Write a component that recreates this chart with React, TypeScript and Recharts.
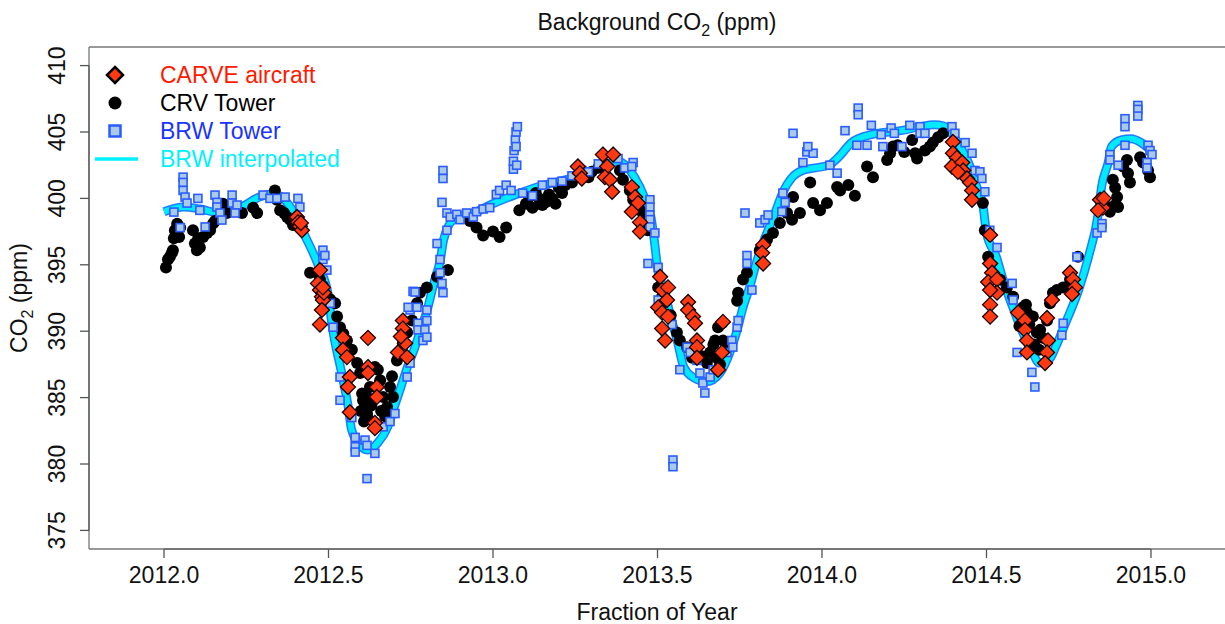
import {
  ComposedChart,
  Line,
  Scatter,
  XAxis,
  YAxis,
  Legend,
  ReferenceLine,
} from "recharts";

// [fraction of year, CO2 ppm]
const carveAircraft: [number, number][] = [
  [2012.401, 398.5], [2012.404, 398.6], [2012.407, 398.2], [2012.413, 397.9], [2012.419, 397.6], [2012.416, 398.15],
  [2012.468, 393.6], [2012.474, 394.6], [2012.474, 393.1], [2012.48, 392.6], [2012.483, 392.35], [2012.48, 391.6],
  [2012.474, 390.5], [2012.486, 392.9], [2012.483, 393.3],
  [2012.544, 389.5], [2012.544, 388.6], [2012.556, 388.05], [2012.565, 386.55], [2012.559, 385.8], [2012.565, 383.9],
  [2012.62, 389.5], [2012.62, 387.3], [2012.62, 386.85], [2012.647, 385.8], [2012.647, 385.05], [2012.641, 383.1],
  [2012.641, 382.7], [2012.726, 390.8], [2012.726, 390.2], [2012.733, 389.1], [2012.711, 388.4], [2012.739, 388.05],
  [2012.72, 389.6],
  [2013.258, 402.4], [2013.264, 401.9], [2013.27, 401.5], [2013.334, 403.3], [2013.365, 403.3], [2013.347, 402.4],
  [2013.34, 401.6], [2013.356, 401.4], [2013.362, 400.5], [2013.422, 400.85], [2013.432, 400.1], [2013.441, 399.65],
  [2013.422, 399.0], [2013.447, 398.2], [2013.447, 397.5],
  [2013.508, 394.1], [2013.514, 393.1], [2013.532, 393.3], [2013.529, 392.35], [2013.502, 391.8], [2013.514, 391.4],
  [2013.532, 391.1], [2013.514, 390.2], [2013.523, 389.3], [2013.593, 392.2], [2013.593, 391.6], [2013.608, 391.1],
  [2013.614, 390.6], [2013.62, 389.3], [2013.62, 388.8], [2013.62, 388.0], [2013.699, 390.7], [2013.696, 388.4],
  [2013.684, 387.1], [2013.821, 396.5], [2013.818, 395.9], [2013.821, 395.1],
  [2014.398, 404.25], [2014.398, 403.4], [2014.41, 403.05], [2014.395, 402.4], [2014.426, 402.7], [2014.429, 402.1],
  [2014.413, 402.0], [2014.441, 401.5], [2014.45, 401.2], [2014.456, 400.6], [2014.456, 399.9], [2014.511, 397.25],
  [2014.511, 395.1], [2014.517, 394.4], [2014.505, 393.7], [2014.532, 393.9], [2014.532, 392.9], [2014.511, 393.1],
  [2014.511, 392.0], [2014.511, 391.1], [2014.596, 391.4], [2014.617, 390.8], [2014.617, 390.1], [2014.623, 389.3],
  [2014.623, 388.4], [2014.684, 391.0], [2014.699, 392.35], [2014.687, 389.3], [2014.684, 388.4], [2014.678, 387.6],
  [2014.754, 394.4], [2014.763, 393.9], [2014.769, 393.3], [2014.76, 392.8],
  [2014.845, 399.9], [2014.854, 399.3], [2014.839, 399.1], [2014.857, 400.0],
];

const crvTower: [number, number][] = [
  [2012.006, 394.8], [2012.012, 395.4], [2012.018, 395.6], [2012.024, 395.9], [2012.027, 396.1], [2012.03, 397.0],
  [2012.033, 397.6], [2012.04, 398.1], [2012.036, 397.3], [2012.049, 397.8], [2012.046, 397.1], [2012.088, 397.6],
  [2012.094, 396.6], [2012.1, 396.1], [2012.109, 396.3], [2012.104, 397.0], [2012.119, 397.1], [2012.131, 397.4],
  [2012.14, 397.6], [2012.149, 398.1], [2012.155, 398.3], [2012.179, 399.6], [2012.191, 398.9], [2012.237, 398.9],
  [2012.271, 399.3], [2012.283, 398.9], [2012.337, 400.6], [2012.343, 399.9], [2012.353, 399.1], [2012.365, 398.9],
  [2012.374, 398.6], [2012.383, 398.4], [2012.392, 398.0],
  [2012.444, 394.4], [2012.465, 394.4], [2012.474, 393.9], [2012.483, 393.4], [2012.505, 392.4], [2012.52, 392.1],
  [2012.526, 391.1], [2012.535, 390.3], [2012.545, 389.8], [2012.556, 389.3], [2012.571, 388.6], [2012.587, 387.6],
  [2012.596, 386.85], [2012.602, 385.3], [2012.605, 384.8], [2012.611, 384.3], [2012.617, 383.8], [2012.617, 385.05],
  [2012.626, 385.8], [2012.641, 387.3], [2012.65, 387.1], [2012.657, 386.3], [2012.666, 385.05], [2012.678, 384.3],
  [2012.681, 383.8], [2012.687, 385.8], [2012.693, 386.6], [2012.696, 385.05], [2012.708, 387.8], [2012.726, 389.1],
  [2012.739, 389.9], [2012.754, 390.8], [2012.769, 392.1], [2012.778, 392.9], [2012.799, 393.3], [2012.83, 394.1],
  [2012.863, 394.6], [2012.598, 384.0], [2012.608, 383.2], [2012.62, 383.4], [2012.63, 384.4], [2012.66, 384.0],
  [2012.672, 383.6],
  [2012.93, 398.3], [2012.95, 397.8], [2012.97, 397.2], [2013.0, 397.5], [2013.02, 397.1], [2013.04, 397.8],
  [2013.08, 399.1], [2013.1, 399.6], [2013.11, 400.1], [2013.12, 399.3], [2013.13, 400.4], [2013.14, 400.0],
  [2013.15, 399.5], [2013.16, 399.7], [2013.17, 400.3], [2013.18, 400.0], [2013.19, 399.6], [2013.2, 400.8],
  [2013.21, 400.4], [2013.22, 401.0], [2013.24, 401.2], [2013.27, 401.8], [2013.29, 401.6], [2013.3, 402.0],
  [2013.32, 402.3], [2013.34, 402.5],
  [2013.386, 402.1], [2013.395, 401.4], [2013.416, 400.6], [2013.426, 399.9], [2013.447, 399.1], [2013.46, 398.4],
  [2013.47, 397.6], [2013.502, 393.3], [2013.514, 392.6],
  [2013.54, 391.2], [2013.559, 389.9], [2013.568, 389.3], [2013.59, 388.8], [2013.605, 388.0], [2013.62, 388.4],
  [2013.638, 388.1], [2013.65, 387.6], [2013.66, 388.4], [2013.67, 389.0], [2013.675, 389.3], [2013.684, 390.3],
  [2013.696, 390.6], [2013.699, 389.3], [2013.705, 388.5], [2013.711, 388.8], [2013.68, 388.0], [2013.69, 387.5],
  [2013.742, 392.3], [2013.745, 392.9], [2013.76, 393.9], [2013.772, 394.4], [2013.811, 396.1], [2013.833, 396.9],
  [2013.851, 397.4], [2013.872, 398.15], [2013.894, 398.9], [2013.909, 398.4], [2013.912, 400.1], [2013.933, 398.9],
  [2013.964, 401.2], [2013.973, 399.65], [2013.994, 399.1], [2014.015, 399.65], [2014.046, 400.85], [2014.055, 400.6],
  [2014.08, 401.0], [2014.1, 400.2], [2014.137, 402.4], [2014.155, 401.6], [2014.198, 402.9], [2014.207, 403.4],
  [2014.216, 403.9],
  [2014.274, 404.4], [2014.283, 403.4], [2014.289, 403.0], [2014.313, 403.6], [2014.328, 403.9], [2014.337, 404.2],
  [2014.353, 404.6], [2014.368, 404.9], [2014.25, 403.5], [2014.23, 404.0],
  [2014.489, 399.65], [2014.495, 397.6], [2014.505, 395.6], [2014.541, 393.9], [2014.562, 393.3], [2014.581, 392.6],
  [2014.611, 391.8], [2014.623, 391.4], [2014.641, 391.1], [2014.653, 389.9], [2014.663, 390.1], [2014.684, 390.8],
  [2014.693, 392.1], [2014.702, 392.9], [2014.714, 393.1], [2014.733, 393.3], [2014.754, 393.9], [2014.778, 395.6],
  [2014.63, 390.5], [2014.645, 389.0], [2014.66, 388.6], [2014.67, 389.5], [2014.6, 390.4], [2014.62, 392.0],
  [2014.869, 399.35], [2014.875, 399.0], [2014.884, 401.4], [2014.891, 400.8], [2014.891, 399.5], [2014.897, 400.1],
  [2014.9, 399.35], [2014.915, 402.4], [2014.927, 402.9], [2014.93, 401.9], [2014.936, 401.2], [2014.967, 403.1],
  [2014.976, 402.7], [2014.991, 402.1], [2014.997, 401.6],
];

const brwTower: [number, number][] = [
  [2012.03, 398.97], [2012.049, 397.8], [2012.058, 401.6], [2012.058, 401.2], [2012.058, 400.6], [2012.064, 400.1],
  [2012.07, 399.65], [2012.103, 400.0], [2012.109, 399.1], [2012.125, 397.85], [2012.155, 400.25], [2012.161, 399.7],
  [2012.161, 399.35], [2012.17, 398.9], [2012.176, 398.37], [2012.207, 400.25], [2012.207, 399.65], [2012.222, 399.5],
  [2012.216, 398.9], [2012.301, 400.25], [2012.322, 400.0], [2012.343, 400.0], [2012.368, 400.1], [2012.407, 400.0],
  [2012.413, 399.35], [2012.483, 396.1], [2012.483, 395.4], [2012.495, 394.6], [2012.505, 392.1], [2012.489, 395.7],
  [2012.514, 390.3], [2012.535, 386.55], [2012.535, 384.8], [2012.571, 383.5], [2012.581, 382.0], [2012.581, 381.3],
  [2012.581, 380.9], [2012.611, 381.8], [2012.617, 381.4], [2012.641, 380.8], [2012.617, 378.9], [2012.666, 382.8],
  [2012.687, 383.2], [2012.702, 383.8], [2012.739, 386.55], [2012.748, 387.6], [2012.757, 393.0], [2012.748, 391.6],
  [2012.772, 390.6], [2012.772, 390.1], [2012.787, 389.3], [2012.799, 391.6], [2012.799, 390.8], [2012.793, 390.1],
  [2012.799, 389.55], [2012.83, 396.6], [2012.839, 395.4], [2012.839, 394.4], [2012.845, 393.6], [2012.848, 392.9],
  [2012.763, 392.95], [2012.742, 391.8], [2012.769, 391.8], [2012.848, 402.1], [2012.848, 401.5], [2012.845, 399.7],
  [2012.86, 398.9], [2012.86, 397.6],
  [2012.87, 398.6], [2012.89, 398.8], [2012.9, 398.4], [2012.92, 398.9], [2012.94, 398.6], [2012.95, 399.0],
  [2012.97, 399.2], [2012.99, 399.3], [2013.01, 400.3], [2013.02, 400.6], [2013.04, 401.0], [2013.055, 400.6],
  [2013.062, 402.2], [2013.062, 402.8], [2013.064, 403.6], [2013.068, 404.4], [2013.07, 405.0], [2013.074, 405.4],
  [2013.07, 403.9], [2013.072, 402.5], [2013.09, 400.4], [2013.12, 400.2], [2013.15, 401.0], [2013.18, 401.2],
  [2013.21, 401.3], [2013.24, 401.7], [2013.27, 402.1], [2013.29, 402.0], [2013.32, 402.6], [2013.38, 403.0],
  [2013.4, 402.3],
  [2013.426, 402.7], [2013.422, 402.4], [2013.477, 399.9], [2013.477, 399.35], [2013.477, 398.75], [2013.477, 398.4],
  [2013.477, 397.85], [2013.492, 397.4], [2013.471, 395.1], [2013.502, 394.8], [2013.502, 392.35], [2013.544, 390.5],
  [2013.547, 380.3], [2013.547, 379.8], [2013.568, 387.1], [2013.59, 388.8], [2013.599, 388.4], [2013.62, 387.8],
  [2013.629, 386.85], [2013.638, 386.1], [2013.644, 385.35], [2013.66, 386.55], [2013.669, 387.1], [2013.711, 388.4],
  [2013.726, 389.3], [2013.729, 388.8], [2013.742, 390.3], [2013.745, 390.8], [2013.766, 398.9], [2013.772, 395.7],
  [2013.772, 395.1], [2013.787, 393.1], [2013.811, 398.15], [2013.827, 398.4], [2013.836, 398.75], [2013.881, 400.4],
  [2013.888, 399.7], [2013.878, 399.0], [2013.912, 404.9], [2013.942, 402.7], [2013.954, 403.5], [2013.973, 403.4],
  [2013.957, 403.9], [2014.024, 402.5], [2014.046, 401.9], [2014.07, 405.1], [2014.106, 404.0], [2014.11, 406.8],
  [2014.11, 406.3], [2014.137, 404.0], [2014.15, 405.5], [2014.18, 404.8], [2014.185, 403.9], [2014.21, 405.3],
  [2014.22, 404.9], [2014.243, 403.9], [2014.267, 405.5], [2014.298, 405.4], [2014.298, 404.9], [2014.313, 404.9],
  [2014.395, 405.4], [2014.404, 404.9], [2014.435, 404.2], [2014.456, 403.4], [2014.465, 402.1], [2014.48, 402.0],
  [2014.486, 401.5], [2014.495, 400.5], [2014.51, 397.6], [2014.532, 396.3], [2014.578, 393.6], [2014.581, 392.35],
  [2014.593, 388.4], [2014.638, 386.9], [2014.647, 385.8], [2014.733, 390.6], [2014.729, 389.7], [2014.775, 395.6],
  [2014.836, 397.4], [2014.851, 398.1], [2014.851, 397.8], [2014.875, 403.3], [2014.875, 402.9], [2014.9, 402.5],
  [2014.921, 406.0], [2014.921, 405.4], [2014.921, 404.0], [2014.96, 407.0], [2014.96, 406.7], [2014.96, 406.2],
  [2014.991, 404.0], [2014.997, 403.6], [2015.003, 403.3], [2014.988, 402.7], [2014.988, 402.3],
];

const brwInterpolated: [number, number][] = [
  [2012.0, 399.0], [2012.06, 399.35], [2012.11, 399.2], [2012.16, 398.95], [2012.23, 399.3], [2012.29, 400.1],
  [2012.33, 400.33], [2012.36, 400.05], [2012.39, 399.13], [2012.43, 397.1], [2012.47, 394.9], [2012.5, 392.6],
  [2012.51, 390.6], [2012.54, 386.85], [2012.56, 384.3], [2012.57, 382.6], [2012.6, 381.3], [2012.62, 381.05],
  [2012.65, 381.6], [2012.68, 382.8], [2012.7, 384.3], [2012.72, 385.8], [2012.74, 387.3], [2012.76, 388.6],
  [2012.78, 390.1], [2012.8, 391.6], [2012.82, 393.6], [2012.84, 395.4], [2012.85, 396.9], [2012.88, 398.4],
  [2012.95, 399.0], [2013.0, 399.6], [2013.07, 400.3], [2013.14, 400.9], [2013.22, 401.4], [2013.29, 401.9],
  [2013.34, 402.5], [2013.38, 402.8], [2013.41, 402.3], [2013.43, 401.6], [2013.46, 400.1], [2013.48, 398.6],
  [2013.49, 396.9], [2013.5, 394.8], [2013.52, 393.1], [2013.54, 391.1], [2013.56, 389.3], [2013.58, 387.3],
  [2013.61, 386.5], [2013.65, 386.2], [2013.69, 386.85], [2013.72, 388.4], [2013.74, 389.9], [2013.76, 391.8],
  [2013.78, 393.3], [2013.8, 395.1], [2013.82, 396.6], [2013.84, 397.85], [2013.86, 399.1], [2013.88, 400.4],
  [2013.91, 401.6], [2013.94, 402.1], [2013.98, 402.3], [2014.02, 402.5], [2014.05, 403.1], [2014.09, 404.2],
  [2014.15, 404.8], [2014.24, 405.1], [2014.3, 405.4], [2014.34, 405.55], [2014.37, 405.45], [2014.39, 405.0],
  [2014.42, 403.9], [2014.45, 402.4], [2014.47, 400.9], [2014.49, 399.35], [2014.5, 397.4], [2014.53, 395.6],
  [2014.55, 393.9], [2014.58, 391.8], [2014.61, 389.9], [2014.64, 388.4], [2014.66, 387.6], [2014.69, 387.85],
  [2014.71, 388.8], [2014.74, 390.6], [2014.78, 393.1], [2014.81, 395.6], [2014.84, 398.9], [2014.85, 400.9],
  [2014.87, 402.7], [2014.88, 403.9], [2014.91, 404.4], [2014.94, 404.5], [2014.97, 404.2], [2015.0, 403.6],
];

const xTicks = [2012.0, 2012.5, 2013.0, 2013.5, 2014.0, 2014.5, 2015.0];
const yTicks = [375, 380, 385, 390, 395, 400, 405, 410];

const toPoints = (rows: [number, number][]) => rows.map(([x, y]) => ({ x, y }));

const FONT = "'Liberation Sans', Arial, Helvetica, sans-serif";
const X_DOMAIN: [number, number] = [2011.772, 2015.228];
const Y_DOMAIN: [number, number] = [373.6, 411.4];

const Diamond = (props: any) => (
  <polygon
    points={`${props.cx},${props.cy - 7.5} ${props.cx + 7.5},${props.cy} ${props.cx},${props.cy + 7.5} ${props.cx - 7.5},${props.cy}`}
    fill="#ff3a12"
    stroke="#1a0000"
    strokeWidth={1.3}
  />
);

const Dot = (props: any) => <circle cx={props.cx} cy={props.cy} r={6} fill="#000" />;

const Square = (props: any) => (
  <rect
    x={props.cx - 4}
    y={props.cy - 4}
    width={8}
    height={8}
    fill="#a9cbe9"
    stroke="#2b5cff"
    strokeWidth={1.6}
  />
);

const XTick = ({ x, y, payload }: any) => (
  <text x={x} y={y + 23} textAnchor="middle" fontSize={23} fontFamily={FONT} fill="#111">
    {Number(payload.value).toFixed(1)}
  </text>
);

const YTick = ({ x, y, payload }: any) => (
  <text
    transform={`translate(${x - 13}, ${y}) rotate(-90)`}
    textAnchor="middle"
    fontSize={23}
    fontFamily={FONT}
    fill="#111"
  >
    {payload.value}
  </text>
);

function LegendBox() {
  const text = { fontSize: 23, fontFamily: FONT };
  return (
    <svg width={330} height={130}>
      <polygon points="26,20 34,28 26,36 18,28" fill="#ff3a12" stroke="#000" strokeWidth={2.5} />
      <circle cx={26} cy={56} r={6.5} fill="#000" />
      <rect x={20.5} y={78.5} width={11} height={11} fill="#a9cbe9" stroke="#2b5cff" strokeWidth={2.5} />
      <line x1={6} y1={112} x2={49} y2={112} stroke="#00f0ff" strokeWidth={3.5} />
      <text x={71} y={36} fill="#ff1a00" {...text}>CARVE aircraft</text>
      <text x={71} y={64} fill="#000" {...text}>CRV Tower</text>
      <text x={71} y={92} fill="#1a33ff" {...text}>BRW Tower</text>
      <text x={71} y={120} fill="#00f0ff" {...text}>BRW interpolated</text>
    </svg>
  );
}

// title and x-axis title share the x-axis label slot
const AxisTitles = () => (
  <g fontFamily={FONT} fontSize={23} fill="#111">
    <text x={657} y={30} textAnchor="middle">
      <tspan>Background CO</tspan>
      <tspan dy={6} fontSize={16}>2</tspan>
      <tspan dy={-6}> (ppm)</tspan>
    </text>
    <text x={657} y={620} textAnchor="middle">
      Fraction of Year
    </text>
  </g>
);

export default function App() {
  return (
    <div style={{ position: "absolute", left: 0, top: 0, width: 1225, height: 624, overflow: "hidden", background: "#fff" }}>
      <ComposedChart width={1230} height={624} margin={{ top: 47, right: 4, bottom: 0, left: 0 }}>
        <XAxis
          dataKey="x"
          type="number"
          domain={X_DOMAIN}
          allowDataOverflow
          ticks={xTicks}
          interval={0}
          tick={<XTick />}
          tickSize={9}
          tickMargin={2}
          height={75}
          axisLine={{ stroke: "#777", strokeWidth: 1.3 }}
          tickLine={{ stroke: "#555", strokeWidth: 1.3 }}
          label={{ content: () => <AxisTitles /> }}
        />
        <YAxis
          dataKey="y"
          type="number"
          domain={Y_DOMAIN}
          allowDataOverflow
          ticks={yTicks}
          interval={0}
          tick={<YTick />}
          tickSize={9}
          tickMargin={2}
          width={89}
          axisLine={{ stroke: "#777", strokeWidth: 1.3 }}
          tickLine={{ stroke: "#555", strokeWidth: 1.3 }}
          label={{
            content: () => (
              <text transform="translate(27, 298) rotate(-90)" textAnchor="middle" fontSize={23} fontFamily={FONT} fill="#111">
                <tspan>CO</tspan>
                <tspan dy={6} fontSize={16}>2</tspan>
                <tspan dy={-6}> (ppm)</tspan>
              </text>
            ),
          }}
        />
        <ReferenceLine y={Y_DOMAIN[1]} stroke="#777" strokeWidth={1.3} ifOverflow="visible" />
        <ReferenceLine
          segment={[{ x: 2012, y: Y_DOMAIN[0] }, { x: 2015, y: Y_DOMAIN[0] }]}
          stroke="#444"
          strokeWidth={1.5}
          ifOverflow="visible"
        />
        <ReferenceLine
          segment={[{ x: X_DOMAIN[0], y: 375 }, { x: X_DOMAIN[0], y: 410 }]}
          stroke="#444"
          strokeWidth={1.5}
          ifOverflow="visible"
        />
        <Scatter name="CRV Tower" data={toPoints(crvTower)} shape={Dot} isAnimationActive={false} />
        <Line
          name="BRW outline"
          data={toPoints(brwInterpolated)}
          dataKey="y"
          type="monotone"
          stroke="#1e7cff"
          strokeWidth={9}
          dot={false}
          activeDot={false}
          isAnimationActive={false}
          legendType="none"
        />
        <Line
          name="BRW interpolated"
          data={toPoints(brwInterpolated)}
          dataKey="y"
          type="monotone"
          stroke="#00eaff"
          strokeWidth={6}
          dot={false}
          activeDot={false}
          isAnimationActive={false}
        />
        <Scatter name="BRW Tower" data={toPoints(brwTower)} shape={Square} isAnimationActive={false} />
        <Scatter name="CARVE aircraft" data={toPoints(carveAircraft)} shape={Diamond} isAnimationActive={false} />
        <Legend
          layout="horizontal"
          verticalAlign="middle"
          align="center"
          wrapperStyle={{ left: 89, top: 47, width: 330, height: 130 }}
          content={() => <LegendBox />}
        />
      </ComposedChart>
    </div>
  );
}
